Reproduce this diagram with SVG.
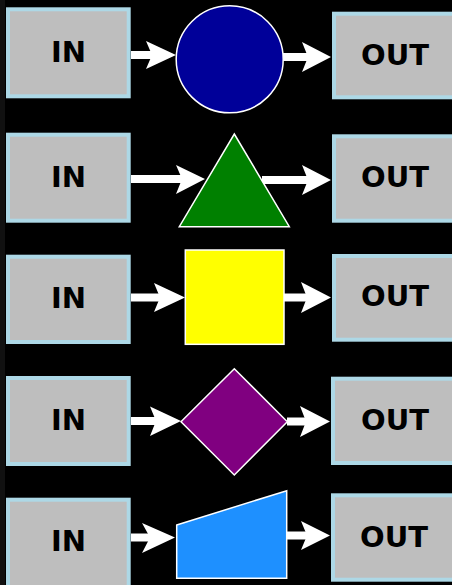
<svg xmlns="http://www.w3.org/2000/svg" width="452" height="585" viewBox="0 0 452 585">
<style>
.box{fill:#bebebe;stroke:#add8e6;stroke-width:4}
.lbl{font-family:"DejaVu Sans",sans-serif;font-weight:bold;font-size:29px;fill:#000;text-anchor:middle}
.shape{stroke:#fff;stroke-width:1.5}
.shaft{stroke:#fff;stroke-width:8;fill:none}
.head{fill:#fff}
</style>
<rect x="0" y="0" width="452" height="585" fill="#000"/>
<rect x="0" y="0" width="5" height="585" fill="#111"/>
<g id="connectors">
  <line class="shaft" x1="131" y1="55" x2="152" y2="55"/>
  <polygon class="head" points="146,41 176,55 146,69 152,55"/>
  <line class="shaft" x1="283" y1="57" x2="308" y2="57"/>
  <polygon class="head" points="302,42 331,57 302,72 308,57"/>
  <line class="shaft" x1="131" y1="179" x2="182" y2="179"/>
  <polygon class="head" points="176,165 205,179 176,194 182,179"/>
  <line class="shaft" x1="262" y1="180" x2="308" y2="180"/>
  <polygon class="head" points="302,165 331,180 302,195 308,180"/>
  <line class="shaft" x1="131" y1="297.5" x2="160" y2="297.5"/>
  <polygon class="head" points="154,283 185,297.5 154,312 160,297.5"/>
  <line class="shaft" x1="284" y1="297.5" x2="307" y2="297.5"/>
  <polygon class="head" points="301,282 331,297.5 301,313 307,297.5"/>
  <line class="shaft" x1="131" y1="421" x2="156" y2="421"/>
  <polygon class="head" points="150,406.5 181,421 150,436 156,421"/>
  <line class="shaft" x1="287" y1="421.5" x2="306" y2="421.5"/>
  <polygon class="head" points="300,406 330,421.5 300,437 306,421.5"/>
  <line class="shaft" x1="131" y1="537.5" x2="150" y2="537.5"/>
  <polygon class="head" points="142,523 175,537.5 142,553 150,537.5"/>
  <line class="shaft" x1="287" y1="535.5" x2="307" y2="535.5"/>
  <polygon class="head" points="301,521 330,535.5 301,550 307,535.5"/>
</g>
<g id="in1"><rect class="box" x="8" y="9.3" width="120.7" height="87"/><text class="lbl" x="68.5" y="62">IN</text></g>
<g id="in2"><rect class="box" x="8" y="134.7" width="120.7" height="86"/><text class="lbl" x="68.5" y="186.7">IN</text></g>
<g id="in3"><rect class="box" x="8" y="256.7" width="120.7" height="85.3"/><text class="lbl" x="68.5" y="308.3">IN</text></g>
<g id="in4"><rect class="box" x="8" y="378" width="120.7" height="86"/><text class="lbl" x="68.5" y="430">IN</text></g>
<g id="in5"><rect class="box" x="8" y="499.7" width="120.7" height="100"/><text class="lbl" x="68.5" y="551">IN</text></g>
<g id="circle"><circle class="shape" cx="229.7" cy="59.3" r="53.5" fill="#000099"/></g>
<g id="triangle"><polygon class="shape" points="234.3,134 289.3,226.7 179.3,226.7" fill="#008000"/></g>
<g id="square"><rect class="shape" x="185.3" y="250" width="98.7" height="94.3" fill="#ffff00"/></g>
<g id="diamond"><polygon class="shape" points="234.3,368.7 287.3,421.7 234.3,475 181,421.7" fill="#800080"/></g>
<g id="trapezoid"><polygon class="shape" points="176.7,525 286.7,490.7 286.7,578.3 176.7,578.3" fill="#1e90ff"/></g>
<g id="out1"><rect class="box" x="334" y="13.7" width="140" height="83.6"/><text class="lbl" x="395" y="65">OUT</text></g>
<g id="out2"><rect class="box" x="334" y="136.3" width="140" height="84.4"/><text class="lbl" x="395" y="187.3">OUT</text></g>
<g id="out3"><rect class="box" x="334" y="256" width="140" height="83.7"/><text class="lbl" x="395" y="305.7">OUT</text></g>
<g id="out4"><rect class="box" x="333" y="378.7" width="140" height="84.3"/><text class="lbl" x="395" y="430">OUT</text></g>
<g id="out5"><rect class="box" x="333" y="495.3" width="140" height="84.4"/><text class="lbl" x="394" y="546.7">OUT</text></g>
</svg>
